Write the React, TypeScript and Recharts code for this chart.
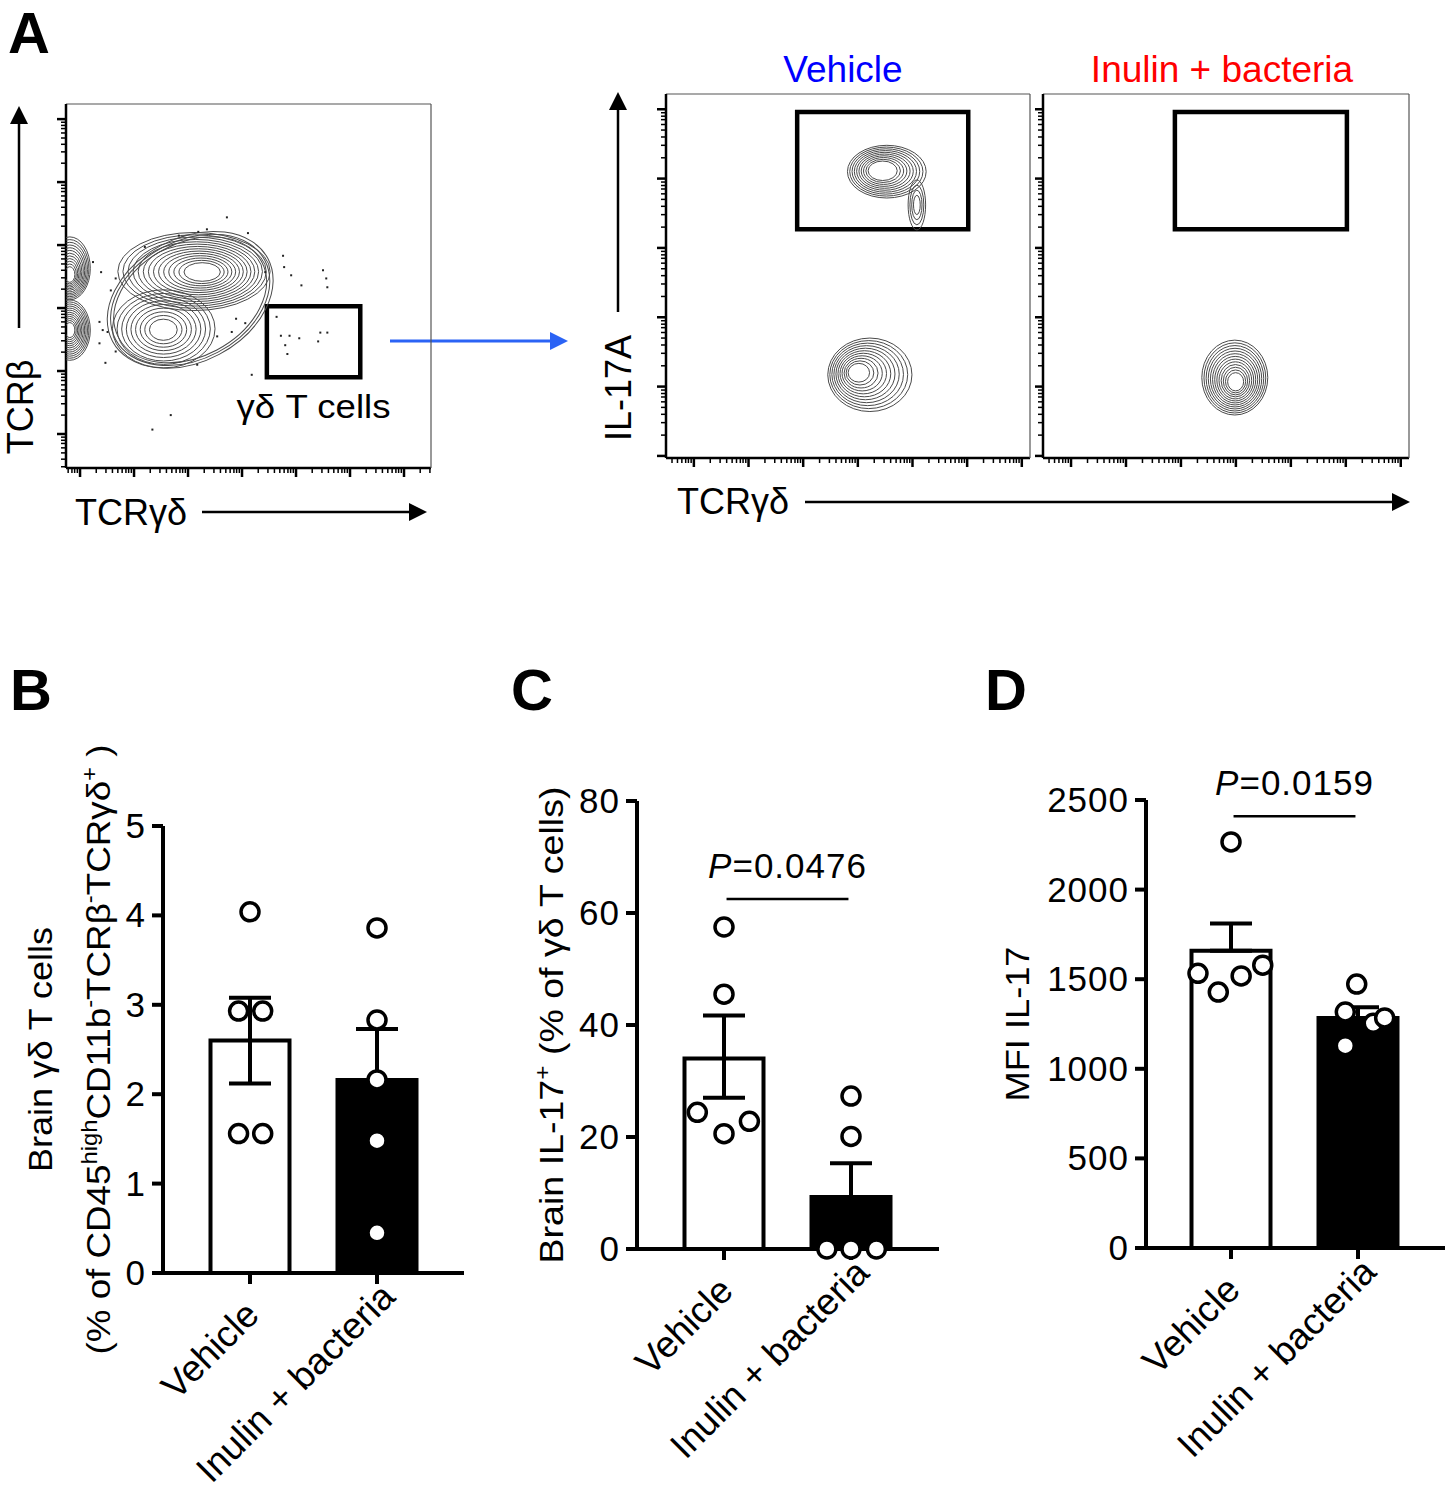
import React from 'react';
import {
  ComposedChart,
  ScatterChart,
  Bar,
  Scatter,
  XAxis,
  YAxis,
  ErrorBar,
  ReferenceLine,
  ReferenceArea,
  Cell,
} from 'recharts';

const SANS = '"Liberation Sans", Arial, Helvetica, sans-serif';

// ---------- bar panels (B, C, D) ----------
const groups = ['Vehicle', 'Inulin + bacteria'];

const bMeans = [2.6, 2.16];
const bErrors = [[0.48, 0.48], [0.57, 0.57]];
const bVehicle = [4.04, 2.93, 2.93, 1.56, 1.56];
const bVehicleJitter = [0, -0.09, 0.1, -0.09, 0.1];
const bInulin = [3.86, 2.83, 2.16, 1.48, 0.45];
const bInulinJitter = [0, 0, 0, 0, 0];
const bTicks = [0, 1, 2, 3, 4, 5];

const cMeans = [34.0, 9.3];
const cErrors = [[7.0, 7.7], [6.0, 6.0]];
const cVehicle = [57.5, 45.5, 24.4, 20.6, 22.8];
const cVehicleJitter = [0, 0, -0.21, 0, 0.2];
const cInulin = [27.3, 20.1, 0, 0, 0];
const cInulinJitter = [0, 0, -0.19, 0, 0.2];
const cTicks = [0, 20, 40, 60, 80];
const cP = '0.0476';
const cBracket = 62.5;

const dMeans = [1659, 1284];
const dErrors = [[0, 152], [60, 60]];
const dVehicle = [2266, 1533, 1428, 1518, 1578];
const dVehicleJitter = [0, -0.26, -0.1, 0.08, 0.25];
const dInulin = [1473, 1317, 1254, 1284, 1129];
const dInulinJitter = [-0.01, -0.1, 0.12, 0.21, -0.1];
const dTicks = [0, 500, 1000, 1500, 2000, 2500];
const dP = '0.0159';
const dBracket = 2410;

// ---------- flow panels (A) ----------
const MINOR = [0.3, 0.48, 0.6, 0.7, 0.78, 0.85, 0.9, 0.95];

// populations: core position, outer half-extent (rx, ry), outer centre offset, contour levels
const gatingBlobs = [
  { x: 2.04, y: 2.13, rx: 1.63, ry: 0.98, ox: 0, oy: 0, n: 3, t0: 0.88, tilt: -28 },
  { x: 2.31, y: 2.57, rx: 1.41, ry: 0.62, ox: -0.2, oy: 0.01, n: 14 },
  { x: 1.54, y: 1.65, rx: 0.95, ry: 0.62, ox: 0.01, oy: 0.02, n: 9 },
  { x: -0.19, y: 2.5, rx: 0.38, ry: 0.5, ox: 0, oy: 0.13, n: 12 },
  { x: -0.19, y: 1.65, rx: 0.38, ry: 0.48, ox: 0, oy: 0, n: 12 },
];
const gatingDots = [
  [2.72, 3.44], [2.35, 3.25], [3.11, 3.19], [1.83, 3.15], [2.19, 3.21], [1.2, 2.97],
  [0.24, 2.73], [0.39, 2.57], [0.66, 2.47], [0.57, 2.28], [0.36, 1.78], [0.42, 1.65],
  [0.51, 1.62], [0.36, 1.44], [0.66, 1.31], [0.47, 1.13], [2.17, 1.1], [3.18, 0.94],
  [3.76, 2.83], [3.78, 2.65], [3.91, 2.52], [4.1, 2.36], [4.5, 2.6], [4.56, 2.47],
  [4.58, 2.33], [3.43, 2.57], [3.64, 1.86], [3.72, 1.56], [3.88, 1.56], [3.8, 1.41],
  [3.84, 1.27], [4.06, 1.52], [4.41, 1.47], [4.45, 1.61], [4.58, 1.61], [2.89, 1.83],
  [3.06, 1.76], [2.81, 1.62], [2.54, 1.55], [1.68, 0.3], [1.34, 0.07],
];
const gatingGate = { x1: 3.46, x2: 5.19, y1: 0.9, y2: 2.03 };

const vehicleBlobs = [
  { x: 3.41, y: 4.12, rx: 0.72, ry: 0.38, ox: 0.12, oy: -0.02, n: 10, t0: 0.3 },
  { x: 4.08, y: 3.62, rx: 0.16, ry: 0.36, ox: 0, oy: 0, n: 4 },
  { x: 2.95, y: 1.21, rx: 0.77, ry: 0.53, ox: 0.27, oy: -0.04, n: 11 },
];
const inulinBlobs = [
  { x: 3.0, y: 1.05, rx: 0.6, ry: 0.54, ox: -0.02, oy: 0.08, n: 13 },
];
const il17Gate = { x1: 1.89, x2: 5.02, y1: 3.27, y2: 4.96 };

function flowTicks(lo: number, hi: number) {
  const out: number[] = [];
  for (let d = Math.floor(lo); d <= Math.ceil(hi); d++) {
    for (const m of [0, ...MINOR]) {
      const v = +(d + m).toFixed(2);
      if (v >= lo && v <= hi) out.push(v);
    }
  }
  return out;
}

function FlowTickX(props: any) {
  const { x, y, payload } = props;
  const major = Number.isInteger(payload.value);
  return <line x1={x} x2={x} y1={y} y2={y + (major ? 9 : 5)} stroke="#000" strokeWidth={major ? 2.5 : 1.5} />;
}

function FlowTickY(props: any) {
  const { x, y, payload } = props;
  const major = Number.isInteger(payload.value);
  return <line x1={x - (major ? 9 : 5)} x2={x} y1={y} y2={y} stroke="#000" strokeWidth={major ? 2.5 : 1.5} />;
}

function Contour(props: any) {
  const { cx, cy, payload, kx, ky } = props;
  if (cx == null || cy == null) return null;
  const t0 = payload.t0 ?? 0.18;
  const rings = [];
  for (let k = 1; k <= payload.n; k++) {
    const t = t0 + ((1 - t0) * k) / payload.n;
    rings.push(
      <ellipse
        key={k}
        cx={cx + t * payload.ox * kx}
        cy={cy - t * payload.oy * ky}
        rx={t * payload.rx * kx}
        ry={t * payload.ry * ky}
        fill="none"
        stroke="#4a4a4a"
        strokeWidth={1}
      />
    );
  }
  return <g transform={payload.tilt ? `rotate(${payload.tilt} ${cx} ${cy})` : undefined}>{rings}</g>;
}

function Speck(props: any) {
  const { cx, cy } = props;
  if (cx == null) return null;
  return <rect x={cx - 1} y={cy - 1} width={2} height={2} fill="#222" />;
}

type FlowProps = {
  left: number;
  top: number;
  width: number;
  height: number;
  margin: { top: number; right: number; bottom: number; left: number };
  xDomain: [number, number];
  yDomain: [number, number];
  blobs: any[];
  dots?: number[][];
  gate: { x1: number; x2: number; y1: number; y2: number };
  gateLabel?: string;
};

function FlowPanel(p: FlowProps) {
  // axes take 1px each on every side
  const plotW = p.width - p.margin.left - p.margin.right - 2;
  const plotH = p.height - p.margin.top - p.margin.bottom - 2;
  const kx = plotW / (p.xDomain[1] - p.xDomain[0]);
  const ky = plotH / (p.yDomain[1] - p.yDomain[0]);
  const dots = (p.dots ?? []).map(([x, y]) => ({ x, y }));
  return (
    <div style={{ position: 'absolute', left: p.left, top: p.top }}>
      <ScatterChart width={p.width} height={p.height} margin={p.margin}>
        <XAxis
          type="number"
          dataKey="x"
          domain={p.xDomain}
          ticks={flowTicks(p.xDomain[0], p.xDomain[1])}
          interval={0}
          tick={<FlowTickX />}
          tickLine={false}
          tickSize={0}
          tickMargin={0}
          height={1}
          allowDataOverflow
          axisLine={{ stroke: '#000', strokeWidth: 2.5 }}
        />
        <XAxis
          xAxisId="top"
          orientation="top"
          type="number"
          domain={p.xDomain}
          tick={false}
          tickLine={false}
          height={1}
          allowDataOverflow
          axisLine={{ stroke: '#555', strokeWidth: 1.2 }}
        />
        <YAxis
          type="number"
          dataKey="y"
          domain={p.yDomain}
          ticks={flowTicks(p.yDomain[0], p.yDomain[1])}
          interval={0}
          tick={<FlowTickY />}
          tickLine={false}
          tickSize={0}
          tickMargin={0}
          width={1}
          allowDataOverflow
          axisLine={{ stroke: '#000', strokeWidth: 2.5 }}
        />
        <YAxis
          yAxisId="right"
          orientation="right"
          type="number"
          domain={p.yDomain}
          tick={false}
          tickLine={false}
          width={1}
          allowDataOverflow
          axisLine={{ stroke: '#555', strokeWidth: 1.2 }}
        />
        <ReferenceArea
          x1={p.gate.x1}
          x2={p.gate.x2}
          y1={p.gate.y1}
          y2={p.gate.y2}
          fill="none"
          fillOpacity={0}
          stroke="#000"
          strokeWidth={4.5}
          label={
            p.gateLabel
              ? (lp: any) => {
                  const vb = lp.viewBox;
                  const cx = vb.x + vb.width / 2;
                  return (
                    <text x={cx} y={vb.y + vb.height + 41} textAnchor="middle" fontSize={33} fontFamily={SANS} textLength={154} lengthAdjust="spacingAndGlyphs" fill="#000">
                      {p.gateLabel}
                    </text>
                  );
                }
              : undefined
          }
        />
        <Scatter data={p.blobs} shape={(s: any) => <Contour {...s} kx={kx} ky={ky} />} isAnimationActive={false} />
        {dots.length > 0 && <Scatter data={dots} shape={<Speck />} isAnimationActive={false} />}
      </ScatterChart>
    </div>
  );
}

// ---------- bar panel pieces ----------
function Dot(props: any) {
  const { cx, cy } = props;
  if (cx == null || cy == null) return null;
  return <circle cx={cx} cy={cy} r={9} fill="#fff" stroke="#000" strokeWidth={3.5} />;
}

function NumTick(props: any) {
  const { x, y, payload } = props;
  return (
    <text x={x} y={y} dy={12} textAnchor="end" fontSize={35} fontFamily={SANS} letterSpacing={1} fill="#000">
      {payload.value}
    </text>
  );
}

function CatTick(props: any) {
  const { x, y, payload, index } = props;
  const [dx, dy] = index === 0 ? [11, 33] : [20, 15];
  const px = x + dx;
  const py = y + dy;
  return (
    <text x={px} y={py} transform={`rotate(-45 ${px} ${py})`} textAnchor="end" fontSize={37} fontFamily={SANS} fill="#000">
      {payload.value}
    </text>
  );
}

function PLabel(props: any) {
  const vb = props.viewBox;
  if (!vb) return null;
  return (
    <text x={vb.x + vb.width / 2} y={vb.y - 21} textAnchor="middle" fontSize={35} fontFamily={SANS} letterSpacing={1} fill="#000">
      <tspan fontStyle="italic">P</tspan>={props.pv}
    </text>
  );
}

type BarProps = {
  left: number;
  top: number;
  width: number;
  height: number;
  margin: { top: number; right: number; bottom: number; left: number };
  yWidth: number;
  pad: { left: number; right: number };
  domain: [number, number];
  ticks: number[];
  means: number[];
  errors: number[][];
  vehicle: number[];
  vehicleJitter: number[];
  inulin: number[];
  inulinJitter: number[];
  yLabel: (props: any) => React.ReactNode;
  pValue?: string;
  bracket?: number;
};

function BarPanel(p: BarProps) {
  const rows = groups.map((g, i) => ({ name: g, mean: p.means[i], err: p.errors[i] }));
  const points = [
    ...p.vehicle.map((v, i) => ({ x: 0 + p.vehicleJitter[i], y: v })),
    ...p.inulin.map((v, i) => ({ x: 1 + p.inulinJitter[i], y: v })),
  ];
  return (
    <div style={{ position: 'absolute', left: p.left, top: p.top }}>
      <ComposedChart width={p.width} height={p.height} data={rows} margin={p.margin}>
        <XAxis
          xAxisId="cat"
          dataKey="name"
          type="category"
          padding={p.pad}
          interval={0}
          height={100}
          tickSize={11}
          tickMargin={0}
          axisLine={{ stroke: '#000', strokeWidth: 4 }}
          tickLine={{ stroke: '#000', strokeWidth: 4 }}
          tick={<CatTick />}
        />
        <XAxis xAxisId="num" dataKey="x" type="number" domain={[-0.5, 1.5]} padding={p.pad} hide />
        <YAxis
          domain={p.domain}
          ticks={p.ticks}
          interval={0}
          width={p.yWidth}
          tickSize={11}
          tickMargin={6}
          axisLine={{ stroke: '#000', strokeWidth: 4 }}
          tickLine={{ stroke: '#000', strokeWidth: 4 }}
          tick={<NumTick />}
          label={p.yLabel}
        />
        <Bar xAxisId="cat" dataKey="mean" barSize={79} stroke="#000" strokeWidth={4} isAnimationActive={false}>
          {rows.map((r, i) => (
            <Cell key={r.name} fill={i === 0 ? '#fff' : '#000'} />
          ))}
          <ErrorBar dataKey="err" width={21} stroke="#000" strokeWidth={4} direction="y" />
        </Bar>
        {p.pValue && (
          <ReferenceLine
            xAxisId="num"
            segment={[
              { x: 0.02, y: p.bracket },
              { x: 0.98, y: p.bracket },
            ]}
            stroke="#000"
            strokeWidth={2.5}
            label={<PLabel pv={p.pValue} />}
          />
        )}
        <Scatter xAxisId="num" data={points} dataKey="y" shape={<Dot />} isAnimationActive={false} />
      </ComposedChart>
    </div>
  );
}

function rotText(x: number, y: number) {
  return `rotate(-90 ${x} ${y})`;
}

const bYLabel = (props: any) => {
  const vb = props.viewBox;
  const right = vb.x + vb.width;
  const cy = vb.y + vb.height / 2;
  const x1 = right - 111;
  const x2 = right - 53;
  return (
    <g fontFamily={SANS} fill="#000">
      <text x={x1} y={cy} transform={rotText(x1, cy)} textAnchor="middle" fontSize={34} textLength={245} lengthAdjust="spacingAndGlyphs">
        Brain γδ T cells
      </text>
      <text x={x2} y={cy} transform={rotText(x2, cy)} textAnchor="middle" fontSize={34} textLength={610} lengthAdjust="spacingAndGlyphs">
        (% of CD45<tspan dy={-13} fontSize={22}>high</tspan>
        <tspan dy={13}>CD11b</tspan>
        <tspan dy={-13} fontSize={22}>-</tspan>
        <tspan dy={13}>TCRβ</tspan>
        <tspan dy={-13} fontSize={22}>-</tspan>
        <tspan dy={13}>TCRγδ</tspan>
        <tspan dy={-13} fontSize={22}>+</tspan>
        <tspan dy={13}> )</tspan>
      </text>
    </g>
  );
};

const cYLabel = (props: any) => {
  const vb = props.viewBox;
  const x = vb.x + vb.width - 74;
  const cy = vb.y + vb.height / 2;
  return (
    <text x={x} y={cy} transform={rotText(x, cy)} textAnchor="middle" fontSize={34} fontFamily={SANS} fill="#000" textLength={477} lengthAdjust="spacingAndGlyphs">
      Brain IL-17<tspan dy={-13} fontSize={22}>+</tspan>
      <tspan dy={13}> (% of γδ T cells)</tspan>
    </text>
  );
};

const dYLabel = (props: any) => {
  const vb = props.viewBox;
  const x = vb.x + vb.width - 117;
  const cy = vb.y + vb.height / 2;
  return (
    <text x={x} y={cy} transform={rotText(x, cy)} textAnchor="middle" fontSize={34} fontFamily={SANS} fill="#000" textLength={155} lengthAdjust="spacingAndGlyphs">
      MFI IL-17
    </text>
  );
};

// ---------- annotation overlay ----------
function Arrow({ x1, y1, x2, y2, color = '#000', w = 2.5, head = 18, half = 8 }: any) {
  const ang = Math.atan2(y2 - y1, x2 - x1);
  const bx = x2 - head * Math.cos(ang);
  const by = y2 - head * Math.sin(ang);
  const px = -Math.sin(ang) * half;
  const py = Math.cos(ang) * half;
  return (
    <g>
      <line x1={x1} y1={y1} x2={bx} y2={by} stroke={color} strokeWidth={w} />
      <polygon points={`${x2},${y2} ${bx + px},${by + py} ${bx - px},${by - py}`} fill={color} />
    </g>
  );
}

function Overlay() {
  return (
    <svg width={1451} height={1500} style={{ position: 'absolute', left: 0, top: 0 }} fontFamily={SANS}>
      <text x={8} y={53} fontSize={58} fontWeight="bold">A</text>
      <text x={10} y={710} fontSize={58} fontWeight="bold">B</text>
      <text x={511} y={710} fontSize={58} fontWeight="bold">C</text>
      <text x={985} y={710} fontSize={58} fontWeight="bold">D</text>

      <Arrow x1={19} y1={328} x2={19} y2={106} head={18} half={9} />
      <text x={33} y={407} transform={rotText(33, 407)} textAnchor="middle" fontSize={36}>TCRβ</text>
      <text x={75} y={525} fontSize={36}>TCRγδ</text>
      <Arrow x1={202} y1={512} x2={427} y2={512} head={18} half={9} />

      <Arrow x1={390} y1={341} x2={568} y2={341} color="#2b63f5" w={3} head={18} half={9} />

      <Arrow x1={618} y1={312} x2={618} y2={92} head={18} half={9} />
      <text x={631} y={388} transform={rotText(631, 388)} textAnchor="middle" fontSize={36}>IL-17A</text>
      <text x={677} y={514} fontSize={36}>TCRγδ</text>
      <Arrow x1={805} y1={502} x2={1410} y2={502} head={18} half={9} />

      <text x={843} y={82} textAnchor="middle" fontSize={37} fill="#0000ff">Vehicle</text>
      <text x={1222} y={82} textAnchor="middle" fontSize={37} fill="#ff0000">Inulin + bacteria</text>
    </svg>
  );
}

export default function App() {
  return (
    <div style={{ position: 'absolute', left: 0, top: 0, width: 1451, height: 1500, background: '#fff', overflow: 'hidden' }}>
      <Overlay />

      <FlowPanel
        left={0}
        top={80}
        width={450}
        height={480}
        margin={{ top: 23, right: 18, bottom: 91, left: 65 }}
        xDomain={[-0.26, 6.5]}
        yDomain={[-0.54, 5.24]}
        blobs={gatingBlobs}
        dots={gatingDots}
        gate={gatingGate}
        gateLabel="γδ T cells"
      />
      <FlowPanel
        left={600}
        top={40}
        width={450}
        height={500}
        margin={{ top: 53, right: 19, bottom: 81, left: 65 }}
        xDomain={[-0.51, 6.15]}
        yDomain={[-0.03, 5.22]}
        blobs={vehicleBlobs}
        gate={il17Gate}
      />
      <FlowPanel
        left={1035}
        top={40}
        width={416}
        height={500}
        margin={{ top: 53, right: 41, bottom: 81, left: 7 }}
        xDomain={[-0.51, 6.15]}
        yDomain={[-0.03, 5.22]}
        blobs={inulinBlobs}
        gate={il17Gate}
      />

      <BarPanel
        left={0}
        top={660}
        width={480}
        height={840}
        margin={{ top: 166, right: 16, bottom: 127, left: 93 }}
        yWidth={70}
        pad={{ left: 23.5, right: 23.5 }}
        domain={[0, 5]}
        ticks={bTicks}
        means={bMeans}
        errors={bErrors}
        vehicle={bVehicle}
        vehicleJitter={bVehicleJitter}
        inulin={bInulin}
        inulinJitter={bInulinJitter}
        yLabel={bYLabel}
      />
      <BarPanel
        left={490}
        top={660}
        width={470}
        height={840}
        margin={{ top: 141, right: 21, bottom: 151, left: 77 }}
        yWidth={70}
        pad={{ left: 23.5, right: 24.5 }}
        domain={[0, 80]}
        ticks={cTicks}
        means={cMeans}
        errors={cErrors}
        vehicle={cVehicle}
        vehicleJitter={cVehicleJitter}
        inulin={cInulin}
        inulinJitter={cInulinJitter}
        yLabel={cYLabel}
        pValue={cP}
        bracket={cBracket}
      />
      <BarPanel
        left={965}
        top={660}
        width={486}
        height={840}
        margin={{ top: 140, right: 6, bottom: 152, left: 71 }}
        yWidth={110}
        pad={{ left: 21.5, right: 23.5 }}
        domain={[0, 2500]}
        ticks={dTicks}
        means={dMeans}
        errors={dErrors}
        vehicle={dVehicle}
        vehicleJitter={dVehicleJitter}
        inulin={dInulin}
        inulinJitter={dInulinJitter}
        yLabel={dYLabel}
        pValue={dP}
        bracket={dBracket}
      />
    </div>
  );
}
